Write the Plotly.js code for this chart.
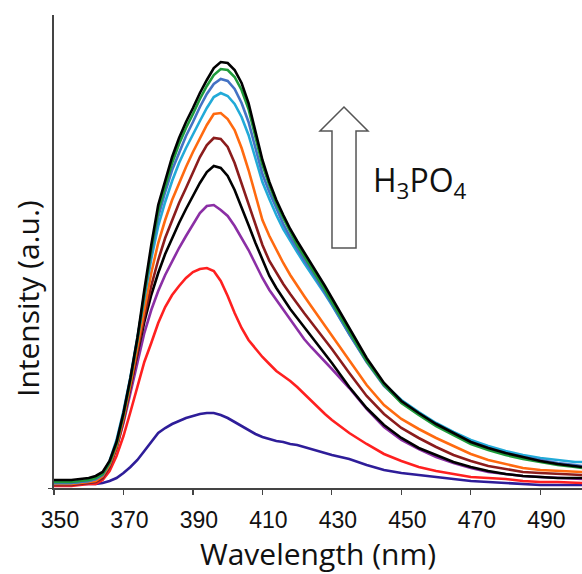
<!DOCTYPE html>
<html>
<head>
<meta charset="utf-8">
<script src="https://cdn.plot.ly/plotly-3.0.1.min.js"></script>
<style>html,body{margin:0;padding:0;background:#fff;}#chart{width:582px;height:574px;}</style>
</head>
<body>
<div id="chart"></div>
<script>
const wavelength = [350,355,360,362,364,366,368,370,372,374,376,378,380,382,384,386,388,390,392,394,396,398,400,402,404,406,408,410,412,414,416,418,420,422,424,426,428,430,435,440,445,450,455,460,465,470,475,480,485,490,495,500,502];

const s1_navy   = [4,4,4, 4,5,7,10,15, 21,28,37,46,55, 60,64,67,70,72, 74,75,75,73,70, 66,62,58,54,51, 49,47,46,44,43, 41,39,37,35,33, 29,23,18,15,13,11,9,7,6,5,4,3,3,3, 3];
const s2_red    = [2,2,4, 4,8,17,32,52, 76,101,126,145,165, 181,193,202,210,216, 219,220,217,207,192, 175,160,148,139,131, 124,117,112,107,101, 94,87,80,74,68, 55,44,34,27,21,17,14,11,10,9,7,6,6,5, 5];
const s3_purple = [3,3,5, 6,10,21,40,65, 95,125,155,178,197, 213,227,240,252,264, 275,282,283,278,272, 262,250,238,224,210, 198,188,178,168,158, 149,141,134,127,119, 100,79,61,48,39,31,25,20,16,14,12,11,10,9, 9];
const s4_black  = [4,4,6, 8,12,24,44,70, 102,135,166,193,215, 234,250,265,279,292, 305,316,322,320,312, 298,281,263,245,228, 212,200,189,179,170, 161,152,143,134,125, 101,80,63,50,40,33,26,21,17,14,12,11,10,10, 10];
const s5_maroon = [3,3,5, 6,10,21,40,67, 100,135,171,202,228, 250,268,285,300,316, 331,343,350,349,341, 325,305,284,263,243, 227,215,204,194,184, 175,166,157,148,139, 115,92,74,60,50,41,33,27,22,19,16,15,14,13, 13];
const s6_orange = [4,4,6, 7,12,23,42,70, 104,141,180,215,245, 268,288,305,321,336, 350,363,374,375,369, 358,340,318,293,268, 252,238,225,213,202, 192,182,172,162,152, 127,103,83,69,59,50,42,34,28,24,20,18,17,16, 16];
const s7_cyan   = [5,5,7, 9,14,27,48,77, 111,149,190,229,262, 286,307,325,340,354, 367,380,391,395,392, 384,371,353,330,306, 289,273,259,247,236, 225,215,205,194,183, 154,127,104,88,76,65,56,48,42,37,33,30,28,26, 26];
const s8_blue   = [5,5,7, 9,13,25,45,74, 109,148,192,234,271, 296,318,336,352,366, 381,394,404,409,407, 399,385,366,341,314, 296,279,264,251,239, 228,218,207,195,184, 154,126,102,86,74,63,54,46,40,35,31,28,25,23, 22];
const s9_green  = [6,6,8, 10,14,25,44,73, 108,148,194,238,277, 302,325,344,360,374, 389,402,413,419,418, 411,398,379,352,323, 303,285,270,256,243, 232,221,210,198,186, 156,127,103,85,73,62,53,44,38,33,29,26,23,21, 20];
const s10_black = [8,8,10, 12,16,27,46,75, 110,150,198,243,283, 308,331,350,366,380, 395,408,420,426,425, 418,405,385,358,328, 306,288,273,259,247, 236,225,214,202,190, 160,130,105,87,75,64,55,46,40,35,31,27,24,22, 21];

const xTicks = [350,370,390,410,430,450,470,490];

const seriesList = [
  {y: s1_navy,   color: '#2e1d99'},
  {y: s2_red,    color: '#ff2020'},
  {y: s3_purple, color: '#8b2fa5'},
  {y: s4_black,  color: '#000000'},
  {y: s5_maroon, color: '#8b1c1c'},
  {y: s6_orange, color: '#ff6a10'},
  {y: s7_cyan,   color: '#22aad8'},
  {y: s8_blue,   color: '#4472c4'},
  {y: s9_green,  color: '#1f9b3b'},
  {y: s10_black, color: '#000000'}
];

const traces = seriesList.map(s => ({
  x: wavelength, y: s.y, type: 'scatter', mode: 'lines',
  line: {color: s.color, width: 2.6}, hoverinfo: 'skip'
}));

const W = 582, H = 574, L = 54, R = 0, T = 15, B = 86;
const pw = W - L - R, ph = H - T - B;
const px2x = px => (px - L) / pw;
const py2y = py => (H - B - py) / ph;

const arrowPts = [[344,107],[368,131],[356,131],[356,248],[332,248],[332,131],[320,131]];
const arrowPath = arrowPts.map((p,i) => (i ? 'L ' : 'M ') + px2x(p[0]).toFixed(4) + ' ' + py2y(p[1]).toFixed(4)).join(' ') + ' Z';

const layout = {
  width: W, height: H,
  margin: {l: L, r: R, t: T, b: B, pad: 0},
  paper_bgcolor: '#ffffff', plot_bgcolor: '#ffffff',
  showlegend: false,
  xaxis: {
    range: [350, 502], tickvals: xTicks, ticktext: xTicks.map(String),
    showgrid: false, zeroline: false, showline: true, linecolor: '#444', linewidth: 1.5,
    ticks: 'outside', ticklen: 5, tickwidth: 1.2, tickcolor: '#444',
    tickfont: {family: 'Liberation Sans, Arial, sans-serif', size: 23, color: '#111'},
    ticklabelstandoff: 6, ticklabelshift: 6,
    title: {text: 'Wavelength (nm)', font: {family: 'Open Sans, sans-serif', size: 30, color: '#111'}, standoff: 2},
    automargin: false
  },
  yaxis: {
    range: [0, 473], showgrid: false, zeroline: false, showline: true, linecolor: '#444', linewidth: 2,
    tickvals: [0], ticks: 'outside', ticklen: 4, tickcolor: '#444', showticklabels: false,
    automargin: false
  },
  shapes: [{
    type: 'path', xref: 'paper', yref: 'paper', path: arrowPath,
    line: {color: '#555', width: 1.5}, fillcolor: '#ffffff', layer: 'above'
  }],
  annotations: [
    {text: 'Intensity (a.u.)', xref: 'paper', yref: 'paper', x: px2x(27), y: py2y(299),
     xanchor: 'center', yanchor: 'middle', textangle: -90, showarrow: false,
     font: {family: 'Open Sans, sans-serif', size: 30, color: '#111'}},
    {text: 'H<sub>3</sub>PO<sub>4</sub>', xref: 'paper', yref: 'paper', x: px2x(371), y: py2y(182),
     xanchor: 'left', yanchor: 'middle', showarrow: false,
     font: {family: 'Open Sans, sans-serif', size: 32, color: '#111'}}
  ]
};

Plotly.newPlot('chart', traces, layout, {displayModeBar: false, staticPlot: true});
</script>
</body>
</html>
